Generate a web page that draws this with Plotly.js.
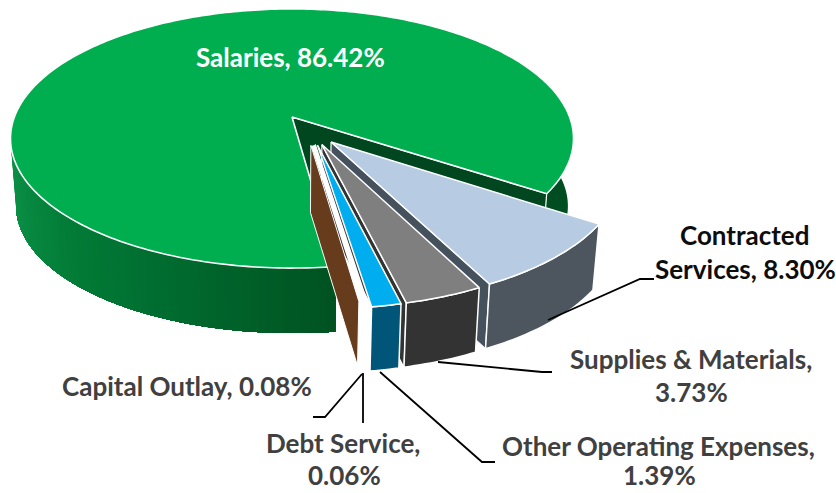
<!DOCTYPE html>
<html><head><meta charset="utf-8">
<script src="https://cdn.plot.ly/plotly-3.0.1.min.js"></script>
<style>html,body{margin:0;padding:0;background:#fff}</style>
</head><body><div id="chart" style="width:836px;height:493px"></div>
<script>
// ---- data ----
const categories = ['Salaries','Contracted Services','Supplies & Materials','Other Operating Expenses','Debt Service','Capital Outlay'];
const shares = [86.42, 8.30, 3.73, 1.39, 0.06, 0.08];

// ---- styles ----
const topColors  = ['#00AE4F','#B7CCE3','#7F7F7F','#00AEEF','#FFFFFF','#663C1C'];
const arcColors  = ['#004D22','#4D555E','#333333','#005578','#FFFFFF','#663C1C'];
const sideColors = ['#00471F','#46515E','#333333',null,null,'#663C1C'];
const explode    = [0.138,0.10,0.10,0.10,0.10,0.10];
const nudgeU     = [0,0,0,0,-0.009,-0.018];
const radius     = [1,1,1,1,0.98,0.97];

// ---- projection of the tilted disc (perspective) ----
const firstAngle = 172.4, OX = 292, OY = 117, A = 277.6, B = 126, K = 0.166;
const DEPTH = 68, SCALE = 0.98, HUB = [0.07, 0.117];
const rad = d => d*Math.PI/180;
function proj(u,v,z){
  const w = 1-K*v; let x = OX+A*u/w, y = OY+B*v/w;
  if(z){ x = OX+(x-OX)*SCALE; y = OY+(y-OY)*SCALE+DEPTH; }
  return [x,y];
}
const total = shares.reduce((a,b)=>a+b,0);
let cum = firstAngle;
const slices = shares.map((s,i)=>{
  const a0 = cum, a1 = cum + s/total*360; cum = a1;
  const mid = rad((a0+a1)/2);
  const e = explode[i];
  const apex = [HUB[0]+e*Math.sin(mid)+nudgeU[i], HUB[1]-e*Math.cos(mid)];
  if(i===0){ apex[0]=0; apex[1]=0; }
  return {a0,a1,apex,r:radius[i],i};
});
const pt = (s,deg,z)=>proj(s.apex[0]+s.r*Math.sin(rad(deg)), s.apex[1]-s.r*Math.cos(rad(deg)), z);
function range(a,b,step){ const o=[]; const n=Math.max(1,Math.ceil(Math.abs(b-a)/step)); for(let k=0;k<=n;k++) o.push(a+(b-a)*k/n); return o; }

const traces = [];
function poly(pts,fill,lineColor,lineWidth){
  const c = pts.concat([pts[0]]);
  traces.push({type:'scatter',mode:'lines',x:c.map(p=>p[0]),y:c.map(p=>p[1]),fill:'toself',fillcolor:fill,
    line:{color:lineColor,width:lineWidth,simplify:false},hoverinfo:'skip',showlegend:false});
}
function topFace(s,lw){
  const pts=[proj(s.apex[0],s.apex[1],0)].concat(range(s.a0,s.a1,1).map(d=>pt(s,d,0)));
  poly(pts,topColors[s.i],'#FFFFFF',lw===undefined?1.5:lw);
}
function arcWall(s,a,b,color,line){
  const d=range(a,b,1);
  poly(d.map(x=>pt(s,x,0)).concat(d.slice().reverse().map(x=>pt(s,x,1))),color,line||color,line?1.5:0);
}
function edgeWall(s,deg,color){
  const h0=proj(s.apex[0],s.apex[1],0), h1=proj(s.apex[0],s.apex[1],1);
  poly([h0,pt(s,deg,0),pt(s,deg,1),h1],color,'#FFFFFF',1.2);
}
function mix(c1,c2,t){ return 'rgb('+c1.map((c,k)=>Math.round(c+(c2[k]-c)*t)).join(',')+')'; }

// Salaries
const sal = slices[0];
const gradStops = [[295,[14,156,76]],[250,[10,142,68]],[225,[2,124,55]],[200,[0,106,46]],[172,[0,82,32]]];
function gradColor(d){
  for(let k=0;k<gradStops.length-1;k++){
    const a=gradStops[k], b=gradStops[k+1];
    if(d<=a[0]&&d>=b[0]) return mix(a[1],b[1],(a[0]-d)/(a[0]-b[0]));
  }
  return mix(gradStops[4][1],gradStops[4][1],0);
}
const rightEnd = sal.a1-360;
arcWall(sal,55,rightEnd,arcColors[0]);
edgeWall(sal,rightEnd,sideColors[0]);
// each strip is painted from its far edge down to the front cut, so no seams show
const gradSteps = range(295,sal.a0,1.5);
for(let k=0;k<gradSteps.length-1;k++) arcWall(sal,gradSteps[k],sal.a0,gradColor((gradSteps[k]+gradSteps[k+1])/2));
topFace(sal,1.6);

// Exploded slices, back to front
[1,2,3].forEach(i=>{
  const s=slices[i];
  if(sideColors[i]) edgeWall(s,s.a1,sideColors[i]);
  arcWall(s,s.a0,s.a1,arcColors[i],'#FFFFFF');
  topFace(s);
});
// Debt Service: hair-thin slice, outline only
{ const s=slices[4]; const pts=[proj(s.apex[0],s.apex[1],0),pt(s,s.a0,0),pt(s,s.a1,0)]; poly(pts,'#FFFFFF','#FFFFFF',5); }
// Capital Outlay: only its cut side shows
{ const s=slices[5]; const h0=proj(s.apex[0],s.apex[1],0),h1=proj(s.apex[0],s.apex[1],1);
  poly([h0,pt(s,s.a1,0),pt(s,s.a1,1),h1],sideColors[5],'#FFFFFF',1); }

// leader lines
const leaders = [
  [[548,320],[640,279],[654,279]],
  [[438,362],[542,372],[552,372]],
  [[380,372],[482,462],[495,462]],
  [[363,373],[363,423]],
  [[362,374],[325,417],[313,417]]
];
leaders.forEach(l=>traces.push({type:'scatter',mode:'lines',x:l.map(p=>p[0]),y:l.map(p=>p[1]),
  line:{color:'#000000',width:1.8},hoverinfo:'skip',showlegend:false}));

const FONT='Lato, Carlito, sans-serif', FS=26;
const pct = i=>shares[i].toFixed(2)+'%';
const labels = [
  {t:categories[0]+', '+pct(0),x:290,y:57,c:'#FFFFFF'},
  {t:'Contracted',x:744,y:235,c:'#0D0D0D'},
  {t:'Services, '+pct(1),x:745,y:269,c:'#0D0D0D'},
  {t:categories[2]+',',x:691,y:359,c:'#404040'},
  {t:pct(2),x:691,y:392,c:'#404040'},
  {t:categories[3]+',',x:658,y:446,c:'#404040'},
  {t:pct(3),x:659,y:475,c:'#404040'},
  {t:categories[4]+',',x:343,y:443,c:'#404040'},
  {t:pct(4),x:344,y:475,c:'#404040'},
  {t:categories[5]+', '+pct(5),x:187,y:386,c:'#404040'}
];
const annotations = labels.map(l=>({text:'<b>'+l.t+'</b>',x:l.x,y:l.y,xref:'x',yref:'y',showarrow:false,
  xanchor:'center',yanchor:'middle',align:'center',font:{family:FONT,size:FS,color:l.c}}));

Plotly.newPlot('chart',traces,{
  width:836,height:493,margin:{l:0,r:0,t:0,b:0},paper_bgcolor:'#fff',plot_bgcolor:'#fff',showlegend:false,
  xaxis:{range:[0,836],visible:false,fixedrange:true},
  yaxis:{range:[493,0],visible:false,fixedrange:true},
  annotations,hovermode:false
},{displayModeBar:false,staticPlot:true});
</script></body></html>
